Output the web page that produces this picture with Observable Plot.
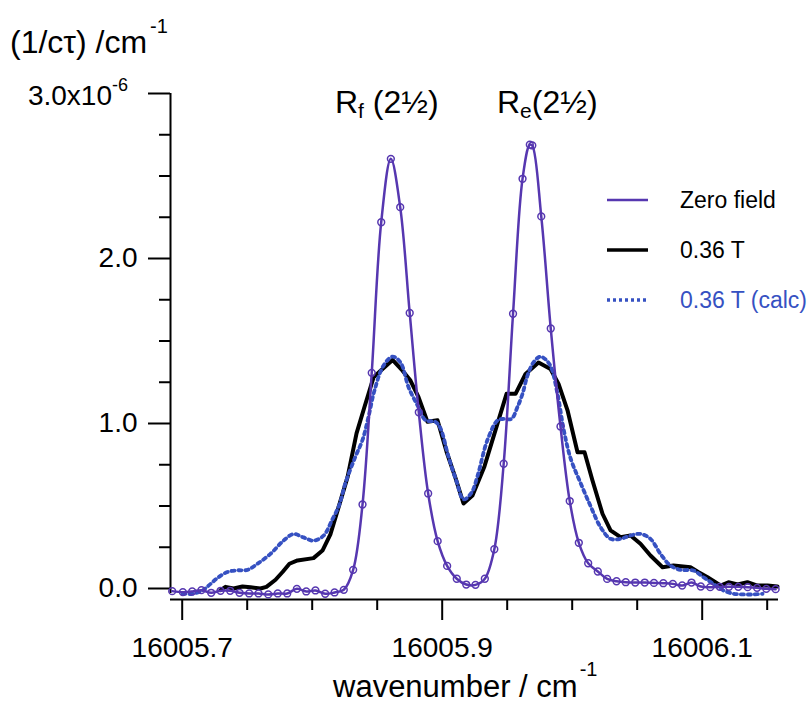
<!DOCTYPE html>
<html><head><meta charset="utf-8">
<script src="https://cdn.jsdelivr.net/npm/d3@7"></script>
<script src="https://cdn.jsdelivr.net/npm/@observablehq/plot@0.6"></script>
<style>
body{margin:0;background:#fff;}
#chart{width:811px;height:708px;}
svg{font-family:"Liberation Sans",Arial,Helvetica,sans-serif;}
</style></head><body><div id="chart"></div>
<script>
// Zero field (markers), wavenumber / cm-1 and 1/(c tau) in units of 1e-6 cm-1
const zeroX = [16005.6923,16005.7005,16005.7077,16005.7148,16005.7223,16005.7295,16005.7369,16005.7441,16005.7515,16005.7587,
  16005.7662,16005.7735,16005.7808,16005.7882,16005.7954,16005.8025,16005.8100,16005.8172,16005.8243,16005.8315,
  16005.8387,16005.8458,16005.8531,16005.8605,16005.8677,16005.8750,16005.8820,16005.8892,16005.8965,16005.9038,
  16005.9112,16005.9185,16005.9256,16005.9328,16005.9401,16005.9473,16005.9545,16005.9618,16005.9674,16005.9693,
  16005.9762,16005.9835,16005.9910,16005.9981,16006.0051,16006.0123,16006.0197,16006.0269,16006.0341,16006.0412,
  16006.0485,16006.0558,16006.0629,16006.0701,16006.0774,16006.0846,16006.0918,16006.0989,16006.1062,16006.1135,
  16006.1206,16006.1278,16006.1350,16006.1422,16006.1493,16006.1565];
const zeroY = [-0.016,-0.022,-0.018,-0.010,-0.026,-0.014,-0.014,-0.026,-0.030,-0.030,
  -0.036,-0.030,-0.030,-0.002,-0.018,-0.012,-0.032,-0.024,-0.008,0.113,
  0.509,1.307,2.22,2.604,2.311,1.67,1.068,0.576,0.287,0.137,
  0.059,0.024,0.022,0.059,0.238,0.756,1.665,2.483,2.69,2.685,
  2.255,1.576,0.982,0.53,0.277,0.153,0.103,0.058,0.044,0.038,
  0.036,0.036,0.034,0.032,0.028,0.018,0.036,0.012,0.008,0.010,
  0.010,0.010,0.008,0.004,-0.002,-0.004];

// 0.36 T measured
const t036X = [16005.7295,16005.7333,16005.7395,16005.7464,16005.7525,16005.7602,16005.7648,16005.7718,16005.7772,16005.7825,
  16005.7887,16005.8010,16005.8079,16005.8141,16005.8202,16005.8272,16005.8341,16005.8402,16005.8472,16005.8541,
  16005.8618,16005.8695,16005.8756,16005.8818,16005.8887,16005.8964,16005.9033,16005.9102,16005.9164,16005.9233,
  16005.9325,16005.9410,16005.9495,16005.9564,16005.9641,16005.9741,16005.9833,16005.9895,16005.9964,16006.0041,
  16006.0095,16006.0156,16006.0233,16006.0295,16006.0372,16006.0449,16006.0525,16006.0602,16006.0695,16006.0779,
  16006.0910,16006.0972,16006.1041,16006.1141,16006.1202,16006.1272,16006.1348,16006.1425,16006.1502,16006.1579];
const t036Y = [-0.01,0.01,0.0,0.012,0.008,0.0,0.01,0.053,0.10,0.15,
  0.17,0.184,0.23,0.33,0.49,0.675,0.94,1.10,1.28,1.33,
  1.385,1.32,1.26,1.16,1.01,1.02,0.83,0.67,0.515,0.564,
  0.74,0.96,1.18,1.18,1.30,1.37,1.33,1.24,1.08,0.826,
  0.826,0.655,0.453,0.352,0.311,0.321,0.271,0.20,0.129,0.139,
  0.129,0.099,0.068,0.018,0.038,0.024,0.038,0.018,0.018,0.012];

// 0.36 T calculated
const calcX = [16005.7002,16005.7079,16005.7156,16005.7218,16005.7279,16005.7348,16005.7425,16005.7502,16005.7579,16005.7679,
  16005.7779,16005.7856,16005.7933,16005.8010,16005.8087,16005.8156,16005.8210,16005.8256,16005.8333,16005.8387,
  16005.8433,16005.8479,16005.8548,16005.8618,16005.8679,16005.8741,16005.8810,16005.8872,16005.8948,16005.8987,
  16005.9048,16005.9110,16005.9164,16005.9225,16005.9271,16005.9348,16005.9425,16005.9472,16005.9533,16005.9579,
  16005.9618,16005.9656,16005.9702,16005.9756,16005.9825,16005.9887,16005.9933,16005.9987,16006.0064,16006.0141,
  16006.0218,16006.0295,16006.0372,16006.0449,16006.0525,16006.0602,16006.0679,16006.0756,16006.0833,16006.0933,
  16006.1010,16006.1087,16006.1164,16006.1241,16006.1318,16006.1395,16006.1464];
const calcY = [-0.032,-0.032,-0.012,0.028,0.068,0.10,0.11,0.113,0.15,0.21,
  0.29,0.33,0.31,0.29,0.32,0.42,0.51,0.64,0.80,0.90,
  1.04,1.2,1.35,1.405,1.37,1.22,1.11,1.02,1.01,0.97,
  0.80,0.65,0.54,0.58,0.68,0.90,1.018,1.028,1.028,1.10,
  1.18,1.29,1.37,1.405,1.36,1.18,0.97,0.79,0.64,0.50,
  0.372,0.301,0.301,0.321,0.331,0.301,0.21,0.139,0.113,0.109,
  0.068,0.028,-0.012,-0.032,-0.036,-0.036,-0.032];

const yMajor = [0, 1, 2, 3];
const yLabelled = [0, 1, 2];
const yMinor = [0.25,0.5,0.75,1.25,1.5,1.75,2.25,2.5,2.75];
const xMajor = [16005.7, 16005.9, 16006.1];
const xMinor = [16005.75,16005.8,16005.85,16005.95,16006.0,16006.05,16006.15];
const xDomain = [16005.691, 16006.1587];
const yDomain = [-0.0667, 3.0];
const seriesNames = ["Zero field", "0.36 T", "0.36 T (calc)"];
const peakLabels = [{main:"R", sub:"f", rest:" (2\u00BD)"}, {main:"R", sub:"e", rest:"(2\u00BD)"}];

const purple = "#5637b0", blue = "#3651c2", black = "#000";
const zero = zeroX.map((x, i) => ({x, y: zeroY[i]}));
const t036 = t036X.map((x, i) => ({x, y: t036Y[i]}));
const calc = calcX.map((x, i) => ({x, y: calcY[i]}));
const font = '"Liberation Sans",Arial,sans-serif';

const plot = Plot.plot({
  width: 811, height: 708,
  marginLeft: 170, marginRight: 33, marginTop: 93, marginBottom: 109,
  style: {fontFamily: font, background: "#fff", color: "#000"},
  x: {domain: xDomain, label: null},
  y: {domain: yDomain, label: null},
  marks: [
    Plot.ruleY([yDomain[0]], {x1: xDomain[0], x2: xDomain[1], stroke: black, strokeWidth: 2}),
    Plot.ruleX([xDomain[0]], {y1: -0.03, y2: 3, stroke: black, strokeWidth: 2}),
    Plot.axisX(xMajor, {anchor: "bottom", tickSize: 21, strokeWidth: 2, tickFormat: () => "", label: null}),
    Plot.axisX(xMinor, {anchor: "bottom", tickSize: 11, strokeWidth: 2, tickFormat: () => "", label: null}),
    Plot.axisY(yMajor, {anchor: "left", tickSize: 22, strokeWidth: 2, tickFormat: () => "", label: null}),
    Plot.axisY(yMinor, {anchor: "left", tickSize: 11, strokeWidth: 2, tickFormat: () => "", label: null}),
    Plot.text(xMajor, {x: d => d, frameAnchor: "bottom", dy: 49, text: d => d.toFixed(1), fontSize: 28, lineAnchor: "middle", fill: black}),
    Plot.text(yLabelled, {y: d => d, frameAnchor: "left", dx: -33, text: d => d.toFixed(1), fontSize: 28, textAnchor: "end", fill: black}),
    Plot.line(t036, {x: "x", y: "y", stroke: black, strokeWidth: 4, strokeLinejoin: "round"}),
    Plot.line(calc, {x: "x", y: "y", curve: "catmull-rom", stroke: blue, strokeOpacity: 0.2, strokeWidth: 2}),
    Plot.line(calc, {x: "x", y: "y", curve: "catmull-rom", stroke: blue, strokeWidth: 3.8, strokeDasharray: "3,4"}),
    Plot.line(zero, {x: "x", y: "y", curve: "catmull-rom", stroke: purple, strokeWidth: 2.5}),
    Plot.dot(zero, {x: "x", y: "y", r: 3.4, stroke: purple, strokeWidth: 1.5, fill: "none"})
  ]
});
document.getElementById("chart").appendChild(plot);

const svg = d3.select(plot);
const ys = plot.scale("y");
function label(x, y, size, anchor) {
  return svg.append("text").attr("x", x).attr("y", y).attr("font-size", size)
    .attr("font-family", font).attr("text-anchor", anchor).attr("fill", "#000");
}
// y unit label
const t1 = label(10, 53, 32, "start");
t1.append("tspan").text("(1/c\u03C4) /cm");
t1.append("tspan").attr("font-size", 20).attr("dy", -20).attr("dx", 3).text("-1");
// 3.0x10^-6 label
const t3 = label(128, ys.apply(3) + 12, 28, "end");
t3.append("tspan").text("3.0x10");
t3.append("tspan").attr("font-size", 18).attr("dy", -14).text("-6");
// x title
const tx = label(333, 697, 31, "start");
tx.append("tspan").text("wavenumber / cm");
tx.append("tspan").attr("font-size", 20).attr("dy", -21).attr("dx", 2).text("-1");
// peak labels
[[335, peakLabels[0]], [497, peakLabels[1]]].forEach(([x, p]) => {
  const t = label(x, 113, 32, "start");
  t.append("tspan").text(p.main);
  t.append("tspan").attr("font-size", 21).attr("dy", 5).text(p.sub);
  t.append("tspan").attr("dy", -5).text(p.rest);
});
// legend
const legendStyles = [
  {stroke: purple, w: 2.5, dash: null, color: "#000", y: 200},
  {stroke: black, w: 3.5, dash: null, color: "#000", y: 250},
  {stroke: blue, w: 3.5, dash: "3,3", color: blue, y: 300}
];
const lg = svg.append("g");
seriesNames.forEach((name, i) => {
  const s = legendStyles[i];
  lg.append("line").attr("x1", 607).attr("x2", 648).attr("y1", s.y).attr("y2", s.y)
    .attr("stroke", s.stroke).attr("stroke-width", s.w).attr("stroke-dasharray", s.dash);
  lg.append("text").attr("x", 680).attr("y", s.y).attr("dy", "0.35em").attr("font-size", 23)
    .attr("font-family", font).attr("text-anchor", "start").attr("fill", s.color).text(name);
});
</script></body></html>
